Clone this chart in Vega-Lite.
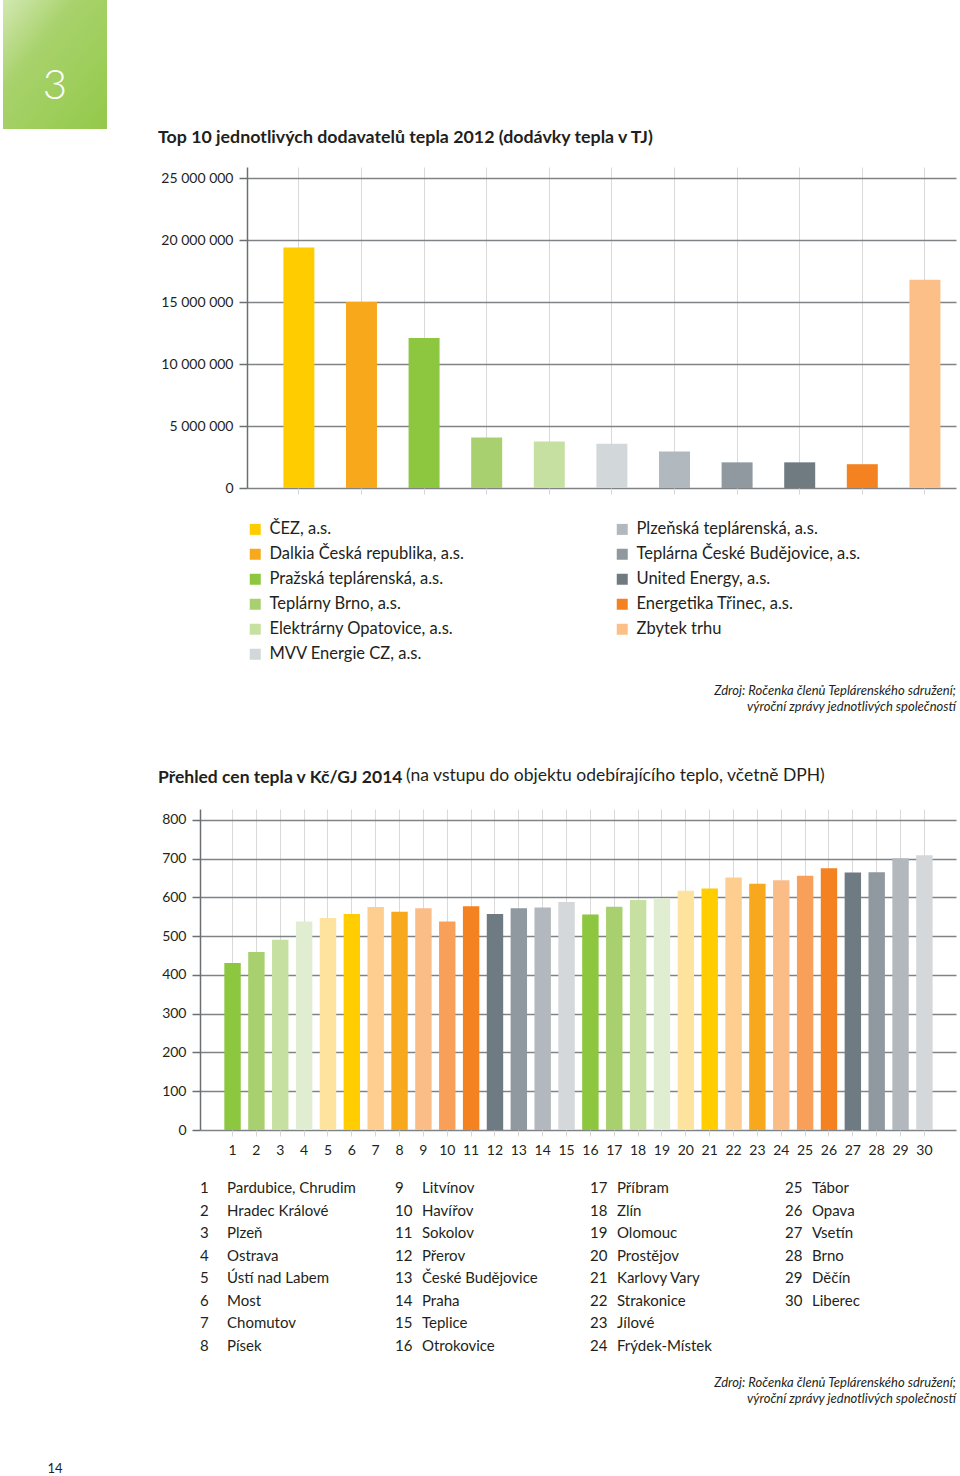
{
  "$schema": "https://vega.github.io/schema/vega-lite/v6.json",
  "padding": {"left": 3, "top": 0, "right": 4, "bottom": 0},
  "background": "#ffffff",
  "config": {
    "font": "Lato",
    "view": {"stroke": null},
    "axis": {"labelFont": "Lato", "labelColor": "#231f20"},
    "title": {"color": "#231f20", "font": "Lato"},
    "legend": {"labelFont": "Lato"}
  },
  "datasets": {
    "suppliers": [
      {"order": 1, "company": "ČEZ, a.s.", "heat": 19400000},
      {"order": 2, "company": "Dalkia Česká republika, a.s.", "heat": 15000000},
      {"order": 3, "company": "Pražská teplárenská, a.s.", "heat": 12100000},
      {"order": 4, "company": "Teplárny Brno, a.s.", "heat": 4080000},
      {"order": 5, "company": "Elektrárny Opatovice, a.s.", "heat": 3750000},
      {"order": 6, "company": "MVV Energie CZ, a.s.", "heat": 3570000},
      {"order": 7, "company": "Plzeňská teplárenská, a.s.", "heat": 2940000},
      {"order": 8, "company": "Teplárna České Budějovice, a.s.", "heat": 2070000},
      {"order": 9, "company": "United Energy, a.s.", "heat": 2070000},
      {"order": 10, "company": "Energetika Třinec, a.s.", "heat": 1920000},
      {"order": 11, "company": "Zbytek trhu", "heat": 16800000}
    ],
    "prices": [
      {"id": 1, "city": "Pardubice, Chrudim", "price": 431},
      {"id": 2, "city": "Hradec Králové", "price": 459},
      {"id": 3, "city": "Plzeň", "price": 491},
      {"id": 4, "city": "Ostrava", "price": 538},
      {"id": 5, "city": "Ústí nad Labem", "price": 547},
      {"id": 6, "city": "Most", "price": 557},
      {"id": 7, "city": "Chomutov", "price": 575},
      {"id": 8, "city": "Písek", "price": 563},
      {"id": 9, "city": "Litvínov", "price": 572},
      {"id": 10, "city": "Havířov", "price": 538},
      {"id": 11, "city": "Sokolov", "price": 577},
      {"id": 12, "city": "Přerov", "price": 557},
      {"id": 13, "city": "České Budějovice", "price": 572},
      {"id": 14, "city": "Praha", "price": 574},
      {"id": 15, "city": "Teplice", "price": 588},
      {"id": 16, "city": "Otrokovice", "price": 556},
      {"id": 17, "city": "Příbram", "price": 576},
      {"id": 18, "city": "Zlín", "price": 593},
      {"id": 19, "city": "Olomouc", "price": 598},
      {"id": 20, "city": "Prostějov", "price": 617},
      {"id": 21, "city": "Karlovy Vary", "price": 623},
      {"id": 22, "city": "Strakonice", "price": 651},
      {"id": 23, "city": "Jílové", "price": 635},
      {"id": 24, "city": "Frýdek-Místek", "price": 644},
      {"id": 25, "city": "Tábor", "price": 656},
      {"id": 26, "city": "Opava", "price": 675},
      {"id": 27, "city": "Vsetín", "price": 664},
      {"id": 28, "city": "Brno", "price": 665},
      {"id": 29, "city": "Děčín", "price": 701},
      {"id": 30, "city": "Liberec", "price": 709}
    ]
  },
  "resolve": {"scale": {"color": "independent"}, "legend": {"color": "independent"}},
  "columns": 1,
  "spacing": 53,
  "concat": [
    {
      "columns": 1,
      "spacing": 0,
      "title": {
        "text": ["Zdroj: Ročenka členů Teplárenského sdružení;", "výroční zprávy jednotlivých společností"],
        "orient": "bottom", "anchor": "end", "frame": "bounds",
        "fontSize": 13, "fontStyle": "italic", "fontWeight": "normal", "lineHeight": 16, "offset": 22
      },
      "concat": [
        {
          "width": 104,
          "height": 129,
          "data": {"values": [{"chapter": "3"}]},
          "encoding": {
            "x": {"field": "chapter", "type": "nominal", "axis": null, "scale": {"type": "band", "paddingInner": 0, "paddingOuter": 0, "range": [-244, -140]}},
            "y": {"field": "chapter", "type": "nominal", "axis": null, "scale": {"type": "band", "paddingInner": 0, "paddingOuter": 0}}
          },
          "layer": [
            {
              "mark": {
                "type": "rect",
                "color": {
                  "gradient": "linear", "x1": 0, "y1": 0, "x2": 1, "y2": 1,
                  "stops": [
                    {"offset": 0, "color": "#d3e8b2"},
                    {"offset": 0.35, "color": "#a8d26c"},
                    {"offset": 1, "color": "#93c94a"}
                  ]
                }
              }
            },
            {
              "mark": {"type": "text", "color": "#ffffff", "fontSize": 42, "fontWeight": 300, "dy": 21},
              "encoding": {"text": {"field": "chapter"}}
            }
          ]
        },
        {
          "width": 709,
          "height": 321,
          "title": {
            "text": "Top 10 jednotlivých dodavatelů tepla 2012 (dodávky tepla v TJ)",
            "anchor": "start", "frame": "group", "dx": -89,
            "fontSize": 17.8, "fontWeight": "bold", "offset": 20
          },
          "data": {"name": "suppliers"},
          "mark": {"type": "bar"},
          "encoding": {
            "x": {
              "field": "company", "type": "nominal", "sort": null,
              "scale": {"paddingInner": 0.505, "paddingOuter": 0.415, "align": 0.7},
              "axis": {
                "labels": false, "title": null, "domain": false,
                "ticks": true, "tickSize": 6, "tickColor": "#d6d6d6",
                "grid": true, "gridColor": "#d9d9d9", "gridWidth": 1,
                "bandPosition": 0.5, "minExtent": 0
              }
            },
            "y": {
              "field": "heat", "type": "quantitative",
              "scale": {"domain": [0, 25900000], "nice": false},
              "axis": {
                "values": [0, 5000000, 10000000, 15000000, 20000000, 25000000],
                "labelExpr": "replace(replace(format(datum.value, ','), ',', ' '), ',', ' ')",
                "title": null,
                "grid": true, "gridColor": "#7f8386", "gridWidth": 1.5,
                "domainColor": "#6b6f72", "domainWidth": 1.5,
                "tickColor": "#6b6f72", "tickSize": 8, "tickWidth": 1.5,
                "labelPadding": 6, "labelFontSize": 14
              }
            },
            "color": {
              "field": "company", "type": "nominal",
              "scale": {
                "domain": ["ČEZ, a.s.", "Plzeňská teplárenská, a.s.", "Dalkia Česká republika, a.s.", "Teplárna České Budějovice, a.s.", "Pražská teplárenská, a.s.", "United Energy, a.s.", "Teplárny Brno, a.s.", "Energetika Třinec, a.s.", "Elektrárny Opatovice, a.s.", "Zbytek trhu", "MVV Energie CZ, a.s."],
                "range": ["#ffcc00", "#b1b8be", "#f7a81b", "#8f999f", "#8dc63f", "#6f7b81", "#a9d06e", "#f58220", "#c6e0a1", "#fbbf87", "#d2d7da"]
              },
              "legend": {
                "orient": "bottom", "direction": "horizontal", "columns": 2, "title": null,
                "symbolType": "square", "symbolSize": 121, "symbolStrokeWidth": 0,
                "labelFontSize": 16.5, "labelColor": "#231f20", "labelOffset": 6, "labelLimit": 400,
                "rowPadding": 8, "columnPadding": 150, "offset": 26, "padding": 0
              }
            }
          }
        }
      ]
    },
    {
      "columns": 1,
      "spacing": 20,
      "title": {
        "text": "(na vstupu do objektu odebírajícího teplo, včetně DPH)",
        "anchor": "start", "frame": "group", "dx": 159, "dy": 16, "offset": 0,
        "fontSize": 17.5, "fontWeight": "normal"
      },
      "concat": [
        {
          "width": 709,
          "height": 321,
          "title": {
            "text": "Přehled cen tepla v Kč/GJ 2014",
            "anchor": "start", "frame": "group", "dx": -89,
            "fontSize": 17.5, "fontWeight": "bold", "offset": 23
          },
          "data": {"name": "prices"},
          "mark": {"type": "bar"},
          "encoding": {
            "x": {
              "field": "id", "type": "ordinal",
              "scale": {"paddingInner": 0.312, "paddingOuter": 1.15, "align": 0.51, "range": [-47, 709]},
              "axis": {
                "title": null, "labelAngle": 0, "labelFontSize": 14, "labelPadding": 7,
                "domain": false, "ticks": true, "tickSize": 6, "tickColor": "#d6d6d6",
                "grid": true, "gridColor": "#d9d9d9", "gridWidth": 1, "bandPosition": 0.5
              }
            },
            "y": {
              "field": "price", "type": "quantitative",
              "scale": {"domain": [0, 828], "nice": false},
              "axis": {
                "values": [0, 100, 200, 300, 400, 500, 600, 700, 800],
                "title": null, "offset": 47,
                "grid": true, "gridColor": "#7f8386", "gridWidth": 1.5,
                "domainColor": "#6b6f72", "domainWidth": 1.5,
                "tickColor": "#6b6f72", "tickSize": 8, "tickWidth": 1.5,
                "labelPadding": 6, "labelFontSize": 14
              }
            },
            "color": {
              "field": "id", "type": "nominal",
              "scale": {
                "domain": [1,2,3,4,5,6,7,8,9,10,11,12,13,14,15,16,17,18,19,20,21,22,23,24,25,26,27,28,29,30],
                "range": ["#8dc63f","#a9d06e","#c6e0a1","#e1edd0","#fde39d","#ffcd00","#fdce8f","#f7a81c","#fbbd88","#f8a05a","#f58220","#6e7b82","#8f999f","#b2b8be","#d4d8db",
                          "#8dc63f","#a9d06e","#c6e0a1","#e1edd0","#fde39d","#ffcd00","#fdce8f","#f7a81c","#fbbd88","#f8a05a","#f58220","#6e7b82","#8f999f","#b2b8be","#d4d8db"]
              },
              "legend": null
            }
          }
        },
        {
          "width": 709,
          "height": 180,
          "title": {
            "text": ["Zdroj: Ročenka členů Teplárenského sdružení;", "výroční zprávy jednotlivých společností"],
            "orient": "bottom", "anchor": "end", "frame": "group",
            "fontSize": 13, "fontStyle": "italic", "fontWeight": "normal", "lineHeight": 16, "offset": 20
          },
          "data": {"name": "prices"},
          "transform": [
            {"bin": {"step": 8, "extent": [1, 33], "nice": false}, "field": "id", "as": "col"},
            {"window": [{"op": "row_number", "as": "row"}], "groupby": ["col"], "sort": [{"field": "id", "order": "ascending"}]}
          ],
          "encoding": {
            "x": {"field": "col", "type": "ordinal", "axis": null, "scale": {"type": "point", "padding": 0, "range": [-47, 538]}},
            "y": {"field": "row", "type": "ordinal", "axis": null, "scale": {"type": "point", "padding": 0.5}}
          },
          "layer": [
            {
              "mark": {"type": "text", "align": "left", "baseline": "middle", "fontSize": 15, "color": "#231f20"},
              "encoding": {"text": {"field": "id"}}
            },
            {
              "mark": {"type": "text", "align": "left", "baseline": "middle", "fontSize": 15, "color": "#231f20", "dx": 27},
              "encoding": {"text": {"field": "city"}}
            }
          ]
        }
      ]
    },
    {
      "width": 104,
      "height": 18,
      "data": {"values": [{"page": "14"}]},
      "mark": {"type": "text", "fontSize": 13, "color": "#231f20", "dy": 1},
      "encoding": {
        "x": {"field": "page", "type": "nominal", "axis": null, "scale": {"type": "point", "padding": 0.5, "range": [-244, -140]}},
        "text": {"field": "page"}
      }
    }
  ]
}
